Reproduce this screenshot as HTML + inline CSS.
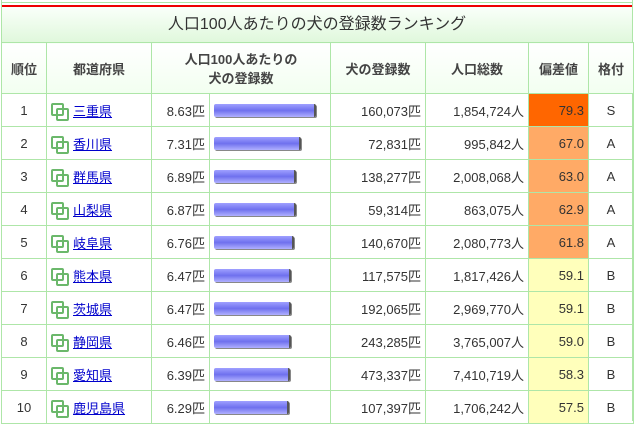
<!DOCTYPE html><html><head><meta charset="utf-8"><style>
body{margin:0;width:634px;height:421px;overflow:hidden;background:#fff;font-family:"Liberation Sans","Noto Sans CJK JP",sans-serif;color:#333;font-size:13px}
.a{position:absolute;box-sizing:border-box}
table{position:absolute;left:1px;top:42px;border-collapse:collapse;width:632px;table-layout:fixed}
td{border:1px solid #aee6a8;height:32px;padding:0 4px;font-size:13px;white-space:nowrap}
th{border:1px solid #aee6a8;height:48px;font-weight:bold;color:#444;font-size:13px;background:linear-gradient(#fff,#f2fff0)}
.c{text-align:center}.r{text-align:right}
a{color:#00c;text-decoration:underline}
.ic{display:inline-block;position:relative;width:16px;height:16px;vertical-align:-3px;margin-right:6px}
.ic i{position:absolute;width:9px;height:9px;border:2px solid #6bb86b;border-radius:2px}
.bar{height:13px;background:linear-gradient(#9fa0ff,#6f70ee 50%,#b0b0ff);border-right:2px solid #555;border-radius:2px;box-shadow:1px 1px 0 #888}
</style></head><body>
<div class="a" style="left:1px;top:0;width:632px;height:421px;border-left:1px solid #aee6a8;border-right:1px solid #aee6a8"></div>
<div class="a" style="left:1px;top:2px;width:632px;height:1px;background:#aee6a8"></div>
<div class="a" style="left:2px;top:5px;width:630px;height:2px;background:#e00"></div>
<div class="a" style="left:2px;top:7px;width:630px;height:35px;background:linear-gradient(#fafffa,#e0f8dc);text-align:center;line-height:35px;font-size:16px;color:#333">人口100人あたりの犬の登録数ランキング</div>
<table>
<colgroup><col style="width:45px"><col style="width:105px"><col style="width:58px"><col style="width:121px"><col style="width:95px"><col style="width:103px"><col style="width:60px"><col style="width:45px"></colgroup>
<tr><th>順位</th><th>都道府県</th><th colspan="2">人口100人あたりの<br>犬の登録数</th><th>犬の登録数</th><th>人口総数</th><th>偏差値</th><th>格付</th></tr>
<tr><td class="c">1</td><td><span class="ic"><i style="left:0;top:0"></i><i style="left:5px;top:5px"></i></span><a>三重県</a></td><td class="r">8.63匹</td><td><div class="bar" style="width:100px"></div></td><td class="r">160,073匹</td><td class="r">1,854,724人</td><td class="r" style="background:#ff6600">79.3</td><td class="c">S</td></tr>
<tr><td class="c">2</td><td><span class="ic"><i style="left:0;top:0"></i><i style="left:5px;top:5px"></i></span><a>香川県</a></td><td class="r">7.31匹</td><td><div class="bar" style="width:85px"></div></td><td class="r">72,831匹</td><td class="r">995,842人</td><td class="r" style="background:#ffaa66">67.0</td><td class="c">A</td></tr>
<tr><td class="c">3</td><td><span class="ic"><i style="left:0;top:0"></i><i style="left:5px;top:5px"></i></span><a>群馬県</a></td><td class="r">6.89匹</td><td><div class="bar" style="width:80px"></div></td><td class="r">138,277匹</td><td class="r">2,008,068人</td><td class="r" style="background:#ffaa66">63.0</td><td class="c">A</td></tr>
<tr><td class="c">4</td><td><span class="ic"><i style="left:0;top:0"></i><i style="left:5px;top:5px"></i></span><a>山梨県</a></td><td class="r">6.87匹</td><td><div class="bar" style="width:80px"></div></td><td class="r">59,314匹</td><td class="r">863,075人</td><td class="r" style="background:#ffaa66">62.9</td><td class="c">A</td></tr>
<tr><td class="c">5</td><td><span class="ic"><i style="left:0;top:0"></i><i style="left:5px;top:5px"></i></span><a>岐阜県</a></td><td class="r">6.76匹</td><td><div class="bar" style="width:78px"></div></td><td class="r">140,670匹</td><td class="r">2,080,773人</td><td class="r" style="background:#ffaa66">61.8</td><td class="c">A</td></tr>
<tr><td class="c">6</td><td><span class="ic"><i style="left:0;top:0"></i><i style="left:5px;top:5px"></i></span><a>熊本県</a></td><td class="r">6.47匹</td><td><div class="bar" style="width:75px"></div></td><td class="r">117,575匹</td><td class="r">1,817,426人</td><td class="r" style="background:#ffffbb">59.1</td><td class="c">B</td></tr>
<tr><td class="c">7</td><td><span class="ic"><i style="left:0;top:0"></i><i style="left:5px;top:5px"></i></span><a>茨城県</a></td><td class="r">6.47匹</td><td><div class="bar" style="width:75px"></div></td><td class="r">192,065匹</td><td class="r">2,969,770人</td><td class="r" style="background:#ffffbb">59.1</td><td class="c">B</td></tr>
<tr><td class="c">8</td><td><span class="ic"><i style="left:0;top:0"></i><i style="left:5px;top:5px"></i></span><a>静岡県</a></td><td class="r">6.46匹</td><td><div class="bar" style="width:75px"></div></td><td class="r">243,285匹</td><td class="r">3,765,007人</td><td class="r" style="background:#ffffbb">59.0</td><td class="c">B</td></tr>
<tr><td class="c">9</td><td><span class="ic"><i style="left:0;top:0"></i><i style="left:5px;top:5px"></i></span><a>愛知県</a></td><td class="r">6.39匹</td><td><div class="bar" style="width:74px"></div></td><td class="r">473,337匹</td><td class="r">7,410,719人</td><td class="r" style="background:#ffffbb">58.3</td><td class="c">B</td></tr>
<tr><td class="c">10</td><td><span class="ic"><i style="left:0;top:0"></i><i style="left:5px;top:5px"></i></span><a>鹿児島県</a></td><td class="r">6.29匹</td><td><div class="bar" style="width:73px"></div></td><td class="r">107,397匹</td><td class="r">1,706,242人</td><td class="r" style="background:#ffffbb">57.5</td><td class="c">B</td></tr>
</table>
</body></html>
